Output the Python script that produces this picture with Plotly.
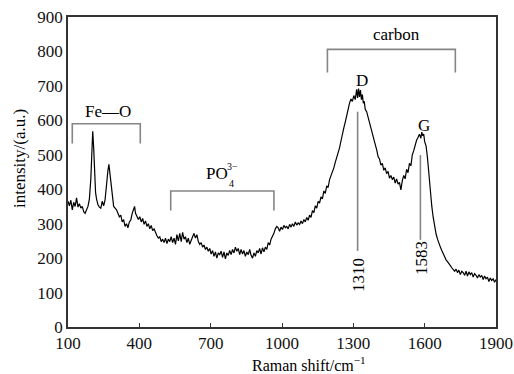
import plotly.graph_objects as go

raman_x = [100,106,112,118,124,130,136,142,148,154,160,166,172,178,184,190,196,200,204,208,212,216,220,226,232,238,244,250,256,262,268,272,276,280,286,292,298,304,310,316,322,328,334,340,346,352,358,364,370,376,380,384,390,396,402,408,414,420,426,432,438,444,450,456,462,468,474,480,486,492,498,504,510,516,522,528,534,540,546,552,558,564,570,576,582,588,594,600,606,612,618,624,630,636,642,648,654,660,666,672,678,684,690,696,702,708,714,720,726,732,738,744,750,756,762,768,774,780,786,792,798,804,810,816,822,828,834,840,846,852,858,864,870,876,882,888,894,900,906,912,918,924,930,936,942,948,954,960,966,972,978,984,990,996,1002,1008,1014,1020,1026,1032,1038,1044,1050,1056,1062,1068,1074,1080,1086,1092,1098,1104,1110,1116,1122,1128,1134,1140,1146,1152,1158,1164,1170,1176,1182,1188,1194,1200,1206,1212,1218,1224,1230,1236,1242,1248,1254,1260,1266,1272,1278,1284,1290,1296,1302,1308,1314,1318,1322,1326,1330,1334,1338,1342,1346,1350,1356,1362,1368,1374,1380,1386,1392,1398,1404,1410,1416,1422,1428,1434,1440,1446,1452,1458,1464,1470,1476,1482,1488,1494,1500,1506,1512,1518,1524,1530,1536,1542,1548,1554,1560,1566,1572,1578,1584,1588,1592,1596,1600,1606,1612,1618,1624,1630,1636,1642,1648,1654,1660,1666,1672,1678,1684,1690,1696,1702,1708,1714,1720,1726,1732,1738,1744,1750,1756,1762,1768,1774,1780,1786,1792,1798,1804,1810,1816,1822,1828,1834,1840,1846,1852,1858,1864,1870,1876,1882,1888,1894,1900]
intensity = [365,352,368,340,362,350,375,348,358,345,350,335,330,338,350,372,430,500,568,520,440,390,372,355,348,345,365,352,370,420,455,472,448,430,390,350,345,340,330,320,325,305,312,292,300,288,305,310,330,340,350,330,318,312,320,305,315,298,308,292,300,285,295,280,285,272,265,258,262,248,255,245,258,242,255,248,262,245,258,240,268,250,272,248,275,255,262,245,258,240,255,262,272,258,268,248,240,245,232,238,225,232,220,228,212,222,205,218,200,215,210,220,202,218,198,215,208,222,210,225,215,232,220,228,210,225,212,222,205,218,210,225,208,200,215,205,222,215,228,212,230,218,232,225,245,238,255,262,272,285,292,288,278,290,283,295,288,292,285,298,290,300,292,305,296,302,298,308,300,312,305,318,310,325,318,338,332,352,345,365,360,378,372,395,388,410,405,428,438,450,462,478,490,505,520,540,555,578,595,615,638,650,662,655,672,660,690,665,692,668,688,660,675,650,655,632,625,608,590,575,560,548,530,515,495,488,470,475,455,462,445,452,432,440,428,435,418,430,415,420,398,425,440,430,458,448,475,468,500,512,530,542,550,560,548,566,555,560,538,525,490,440,395,350,318,292,270,255,240,232,222,212,205,195,190,182,178,172,168,162,168,158,165,152,162,158,150,162,148,160,152,158,145,155,150,142,152,145,150,138,148,140,145,132,142,135,140,130,138]

x_ticks = [100, 400, 700, 1000, 1300, 1600, 1900]
y_ticks = [0, 100, 200, 300, 400, 500, 600, 700, 800, 900]

# bracket groups: (label, x_left, x_right, top, bottom)
fe_o = ("Fe\u2014O", 118, 404, 590, 533)
po4 = ("PO", 532, 966, 395, 338)
carbon = ("carbon", 1191, 1729, 806, 739)
# peak markers: (label, x, top, bottom)
d_peak = ("1310", 1318, 625, 221)
g_peak = ("1583", 1582, 499, 253)

FONT = "Liberation Serif, Times New Roman, DejaVu Serif, serif"
GRAY = "#858585"

fig = go.Figure()
fig.add_trace(go.Scatter(x=raman_x, y=intensity, mode="lines",
                         line=dict(color="black", width=1.2), showlegend=False))

shapes = []
for _, xl, xr, top, bot in (fe_o, po4, carbon):
    shapes.append(dict(type="path", xref="x", yref="y",
                       path=f"M {xl},{bot} L {xl},{top} L {xr},{top} L {xr},{bot}",
                       line=dict(color=GRAY, width=1.6)))
for _, xp, top, bot in (d_peak, g_peak):
    shapes.append(dict(type="line", xref="x", yref="y", x0=xp, x1=xp, y0=bot, y1=top,
                       line=dict(color=GRAY, width=1.6)))

ann = []
def txt(x, y, s, size=17, angle=0, xref="x", yref="y"):
    ann.append(dict(x=x, y=y, xref=xref, yref=yref, text=s, showarrow=False,
                    font=dict(family=FONT, size=size, color="black"),
                    textangle=angle, xanchor="center", yanchor="middle"))

txt(268, 625, fe_o[0])
txt(1482, 848, carbon[0])
txt(727, 447, po4[0])
txt(791, 467, "3\u2212", size=10)
txt(786, 418, "4", size=10)
txt(1335, 717, "D")
txt(1597, 584, "G")
txt(1324, 151, d_peak[0], angle=-90)
txt(1587, 199, g_peak[0], angle=-90)
txt(-0.112, 0.542, "intensity/(a.u.)", angle=-90, xref="paper", yref="paper")
txt(0.563, -0.12, "Raman shift/cm<sup>\u22121</sup>", size=16, xref="paper", yref="paper")

fig.update_layout(
    width=514, height=374,
    margin=dict(l=68, r=18, t=17, b=47),
    paper_bgcolor="white", plot_bgcolor="white",
    font=dict(family=FONT, size=17, color="#111"),
    shapes=shapes, annotations=ann,
    xaxis=dict(range=[100, 1900], tickvals=x_ticks, ticks="inside", ticklen=4,
               tickcolor="#333", showline=True, linecolor="#333", linewidth=1.5,
               mirror=True, showgrid=False, zeroline=False, automargin=False),
    yaxis=dict(range=[0, 900], tickvals=y_ticks, ticks="", showline=True,
               linecolor="#333", linewidth=1.5, mirror=True, showgrid=False,
               zeroline=False, automargin=False),
)
fig.write_html("out.html")
